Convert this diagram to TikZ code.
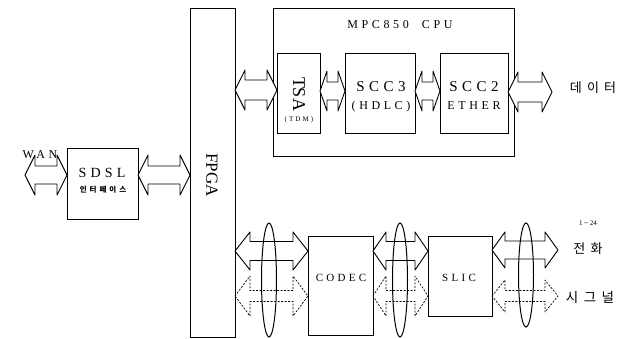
\documentclass[tikz,border=0pt]{standalone}
\usepackage{fontspec}
\setmainfont{Liberation Serif}
\newfontfamily\spc[LetterSpace=30]{Liberation Serif}
\newfontfamily\kor[LetterSpace=40]{Noto Sans CJK KR}
\newcommand\darrow[7]{%
  \draw[#7] (#1,#3) -- (#1+#6,#3-#5) -- (#1+#6,#3-#4) -- (#2-#6,#3-#4) -- (#2-#6,#3-#5) -- (#2,#3)
    -- (#2-#6,#3+#5) -- (#2-#6,#3+#4) -- (#1+#6,#3+#4) -- (#1+#6,#3+#5) -- cycle;}
\begin{document}
\begin{tikzpicture}[x=1pt,y=-1pt,
  box/.style={draw,line width=1pt,inner sep=0pt,anchor=north west},
  solidarr/.style={draw,fill=white,line width=0.9pt,line join=round},
  dasharr/.style={draw,fill=white,line width=0.7pt,dash pattern=on 2pt off 1.5pt,line join=round},
  ring/.style={draw,line width=1pt}]
\useasboundingbox (0,0) rectangle (624,338);
% boxes
\node[box,minimum width=45pt,minimum height=329pt] (fpga) at (190,8) {};
\node[box,minimum width=241pt,minimum height=148pt] (cpu) at (273,8) {};
\node[box,minimum width=43pt,minimum height=80pt] (tsa) at (277,53) {};
\node[box,minimum width=70pt,minimum height=80pt] (scc3) at (345,53) {};
\node[box,minimum width=68pt,minimum height=80pt] (scc2) at (440,53) {};
\node[box,minimum width=71pt,minimum height=71pt] (sdsl) at (67,148) {};
\node[box,minimum width=65pt,minimum height=99pt] (codec) at (308,236) {};
\node[box,minimum width=64pt,minimum height=80pt] (slic) at (428,236) {};
% texts
\node[rotate=-90,font=\fontsize{17}{17}\selectfont] (tfpga) at (212,175) {FPGA};
\node[font=\spc\fontsize{12}{12}\selectfont] (tcpu) at (400,25) {MPC850\ \ CPU};
\node[rotate=-90,font=\fontsize{18}{18}\selectfont] (ttsa) at (299,94) {TSA};
\node[font=\spc\fontsize{7}{7}\selectfont] (ttdm) at (299,120) {(TDM)};
\node[font=\spc\fontsize{15}{15}\selectfont] (tscc3) at (381,87) {SCC3};
\node[font=\spc\fontsize{12}{12}\selectfont] (thdlc) at (381,107) {(HDLC)};
\node[font=\spc\fontsize{15}{15}\selectfont] (tscc2) at (474,87) {SCC2};
\node[font=\spc\fontsize{12}{12}\selectfont] (tether) at (474,106) {ETHER};
\node[font=\spc\fontsize{14}{14}\selectfont] (tsdsl) at (102,173) {SDSL};
\node[font=\kor\fontsize{7.5}{8}\selectfont\bfseries] (tif) at (103,190) {인터페이스};
\node[font=\spc\fontsize{12}{12}\selectfont] (twan) at (40,155) {WAN};
\node[font=\spc\fontsize{11}{11}\selectfont] (tcodec) at (341,278) {CODEC};
\node[font=\spc\fontsize{11}{11}\selectfont] (tslic) at (459,278) {SLIC};
\node[font=\kor\fontsize{13}{13}\selectfont] (tdata) at (593,88) {데이터};
\node[font=\fontsize{7}{7}\selectfont] (tnum) at (588,223) {1 \textasciitilde{} 24};
\node[font=\kor\fontsize{13}{13}\selectfont] (tphone) at (588,249) {전화};
\node[font=\kor\fontsize{13.5}{13.5}\selectfont] (tsig) at (590,297) {시그널};
% top arrows
\darrow{25}{67}{175}{9}{20}{10}{solidarr}
\darrow{138}{190}{175}{9}{20}{10}{solidarr}
\darrow{235}{277}{90}{10}{20}{10}{solidarr}
\darrow{320}{345}{91}{9}{20}{7}{solidarr}
\darrow{415}{440}{91}{9}{20}{7}{solidarr}
\darrow{508}{552}{92}{10}{20}{10}{solidarr}
% bottom arrows
\darrow{235}{308}{251}{9.5}{19}{15}{solidarr}
\darrow{235}{308}{296}{5.5}{20}{15}{dasharr}
\darrow{373}{428}{251}{9.5}{19}{13}{solidarr}
\darrow{373}{428}{296}{5.5}{20}{13}{dasharr}
\darrow{492}{558}{250}{9}{18}{13}{solidarr}
\darrow{492}{558}{296}{5.5}{16}{13}{dasharr}
% ellipses
\draw[ring] (269,280) ellipse [x radius=7.5pt, y radius=57pt];
\draw[ring] (400,280) ellipse [x radius=7.5pt, y radius=57pt];
\draw[ring] (526,275) ellipse [x radius=7.5pt, y radius=52pt];
\end{tikzpicture}
\end{document}
